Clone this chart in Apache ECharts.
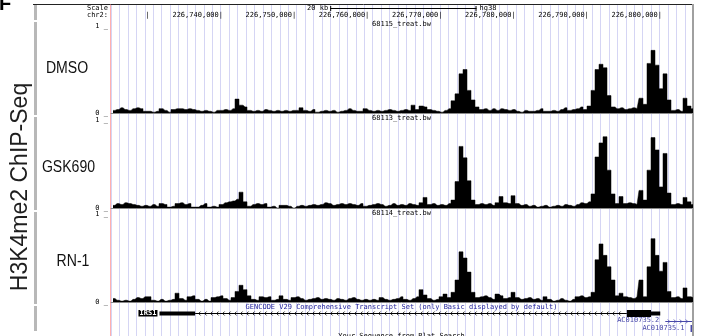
<!DOCTYPE html>
<html><head><meta charset="utf-8">
<script src="https://cdn.jsdelivr.net/npm/echarts@6/dist/echarts.min.js"></script>
<style>html,body{margin:0;padding:0;background:#fff}#c{width:704px;height:336px}</style>
</head><body><div id="c"></div>
<script>
// ---- data ----
const viewStart = 226724693;
const viewEnd = 226804100;
const binSize = 546.7;          // bp per signal bin
const axisStart = 226720000;    // first tick reference (multiple of 10 kb)
const tickStep = 10000;
const scaleBar = [226754650, 226774650]; // 20 kb
const trackNames = ['DMSO', 'GSK690', 'RN-1'];
const fileNames = ['68115_treat.bw', '68113_treat.bw', '68114_treat.bw'];

const dmso = [
0.03,0.04,0.06,0.04,0.03,0.05,0.06,0.05,0.02,0.02,
0.01,0.02,0.05,0.03,0.01,0.04,0.05,0.05,0.04,0.05,
0.04,0.03,0.02,0.03,0.02,0.01,0.03,0.03,0.04,0.03,
0.05,0.16,0.09,0.07,0.03,0.02,0.03,0.02,0.04,0.03,
0.02,0.03,0.02,0.03,0.02,0.03,0.03,0.06,0.03,0.02,
0.04,0.01,0.02,0.03,0.02,0.03,0.01,0.02,0.03,0.05,
0.03,0.02,0.02,0.05,0.03,0.02,0.03,0.02,0.03,0.04,
0.03,0.02,0.03,0.04,0.03,0.09,0.04,0.08,0.07,0.04,
0.03,0.02,0.01,0.03,0.05,0.14,0.22,0.45,0.50,0.26,
0.15,0.07,0.04,0.05,0.03,0.05,0.03,0.05,0.04,0.03,
0.04,0.02,0.01,0.03,0.02,0.02,0.03,0.05,0.02,0.02,
0.03,0.02,0.04,0.06,0.03,0.04,0.05,0.07,0.04,0.08,
0.26,0.50,0.56,0.52,0.20,0.07,0.05,0.06,0.04,0.05,
0.06,0.05,0.17,0.10,0.57,0.72,0.55,0.28,0.45,0.15,
0.03,0.04,0.02,0.17,0.08,0.05];

const gsk690 = [
0.03,0.05,0.04,0.06,0.05,0.04,0.03,0.02,0.03,0.02,
0.04,0.02,0.05,0.04,0.01,0.02,0.05,0.06,0.04,0.05,
0.01,0.01,0.03,0.05,0.01,0.02,0.01,0.04,0.06,0.07,
0.08,0.10,0.18,0.07,0.02,0.04,0.05,0.04,0.05,0.01,
0.02,0.00,0.03,0.03,0.02,0.00,0.02,0.03,0.02,0.03,
0.04,0.03,0.04,0.06,0.05,0.03,0.04,0.05,0.04,0.05,
0.04,0.03,0.05,0.02,0.03,0.04,0.05,0.04,0.02,0.03,
0.05,0.03,0.04,0.03,0.05,0.04,0.03,0.06,0.12,0.04,
0.05,0.03,0.04,0.03,0.05,0.09,0.30,0.70,0.57,0.31,
0.09,0.04,0.05,0.04,0.05,0.03,0.06,0.13,0.06,0.05,
0.14,0.05,0.03,0.04,0.02,0.03,0.01,0.02,0.03,0.01,
0.02,0.03,0.02,0.04,0.03,0.02,0.04,0.06,0.05,0.07,
0.16,0.58,0.74,0.81,0.43,0.16,0.05,0.13,0.05,0.06,
0.05,0.04,0.20,0.09,0.43,0.80,0.66,0.24,0.62,0.17,
0.04,0.05,0.04,0.12,0.07,0.04];

const rn1 = [
0.04,0.02,0.01,0.02,0.01,0.03,0.05,0.04,0.06,0.06,
0.02,0.01,0.03,0.01,0.02,0.03,0.10,0.04,0.02,0.06,
0.07,0.03,0.01,0.03,0.01,0.05,0.06,0.07,0.04,0.02,
0.05,0.12,0.19,0.14,0.07,0.03,0.02,0.06,0.05,0.06,
0.02,0.03,0.07,0.03,0.02,0.05,0.06,0.04,0.02,0.03,
0.04,0.05,0.03,0.04,0.03,0.02,0.04,0.03,0.02,0.04,
0.05,0.03,0.02,0.03,0.02,0.03,0.02,0.05,0.03,0.02,
0.03,0.04,0.06,0.03,0.02,0.04,0.06,0.14,0.08,0.04,
0.02,0.03,0.06,0.09,0.05,0.11,0.25,0.57,0.50,0.34,
0.11,0.05,0.06,0.07,0.05,0.03,0.09,0.07,0.04,0.05,
0.11,0.05,0.03,0.04,0.05,0.03,0.04,0.02,0.06,0.03,
0.01,0.02,0.04,0.02,0.01,0.03,0.06,0.07,0.05,0.06,
0.11,0.48,0.66,0.53,0.40,0.25,0.07,0.10,0.06,0.05,
0.04,0.06,0.25,0.06,0.40,0.72,0.53,0.35,0.45,0.12,
0.05,0.06,0.04,0.16,0.06,0.05];

// gene features: [start, end, row, kind(0 intron,1 utr,2 cds), strand, colorIdx]
const geneFeatures = [
  [226731317, 226736190, 0.5, 1, -1, 0],
  [226736190, 226795194, 0.5, 0, -1, 0],
  [226795194, 226798495, 0.5, 2, -1, 0],
  [226798495, 226799759, 0.5, 1, -1, 0],
  [226800450, 226804100, 1.5, 0, 1, 1],
  [226803900, 226804100, 2.5, 2, 1, 1]
];
// gene labels: [text, geneStart, row, boxed]
const geneLabels = [
  ['IRS1', 226731317, 0.5, true],
  ['AC010735.2', 226800450, 1.5, false],
  ['AC010735.1', 226803900, 2.5, false]
];
const geneColors = ['#000000', '#4848a8'];

// ---- chart ----
const mono = '"DejaVu Sans Mono","Liberation Mono",monospace';
const sans = '"Liberation Sans",Arial,sans-serif';
const chart = echarts.init(document.getElementById('c'));
const tracks = [dmso, gsk690, rn1];
const trackGrids = [{top:26,height:87},{top:120,height:88},{top:214,height:88}];
const L = 111, R = 12;
const pxPerBp = (704 - L - R) / (viewEnd - viewStart);
const coordLeft = L - (viewStart - axisStart) * pxPerBp;

const grids = [{left:L,right:R,top:5,bottom:0}];
trackGrids.forEach(g => grids.push({left:L,right:R,top:g.top,height:g.height}));
grids.push({left:L,right:R,top:309.25,height:22.5});
grids.push({left:coordLeft,right:R,top:26,height:1});

const hidden = {axisLine:{show:false},axisTick:{show:false},axisLabel:{show:false},splitLine:{show:false}};
const xAxis = [
  Object.assign({gridIndex:0,type:'value',min:0,max:(704-L-R)/8.44,interval:1}, hidden,
    {splitLine:{show:true,lineStyle:{color:'#d5d5f4',width:1}}})
];
const yAxis = [
  Object.assign({gridIndex:0,type:'value',min:0,max:1}, hidden,
    {axisLine:{show:true,onZero:false,lineStyle:{color:'#ffb0b0',width:1}},offset:1})
];
trackGrids.forEach((g,k) => {
  xAxis.push(Object.assign({gridIndex:k+1,type:'value',min:viewStart,max:viewEnd}, hidden,
    {axisLine:{show:true,onZero:false,lineStyle:{color:'#8a8a8a',width:1}}}));
  yAxis.push(Object.assign({gridIndex:k+1,type:'value',min:0,max:1,interval:1}, hidden,
    {axisLabel:{show:true,formatter:v=>v+' _',margin:3,fontFamily:mono,fontSize:7,color:'#000'}}));
});
xAxis.push(Object.assign({gridIndex:4,type:'value',min:viewStart,max:viewEnd}, hidden));
yAxis.push(Object.assign({gridIndex:4,type:'value',min:0,max:3,inverse:true}, hidden));
xAxis.push(Object.assign({gridIndex:5,type:'value',position:'top',min:axisStart,max:viewEnd,interval:tickStep}, hidden,
  {axisLabel:{show:true,align:'right',margin:7,fontFamily:mono,fontSize:7,color:'#000',
    formatter:v => v === axisStart ? '' : (v === axisStart + tickStep ? '|' : v.toLocaleString('en-US') + '|')}}));
yAxis.push(Object.assign({gridIndex:5,type:'value',min:0,max:1}, hidden));

const series = tracks.map((vals,k) => ({
  type:'line', xAxisIndex:k+1, yAxisIndex:k+1, silent:true, animation:false,
  step:'middle', symbol:'none', lineStyle:{width:0.5,color:'#000'}, areaStyle:{color:'#000',opacity:1},
  data: vals.map((v,i) => [viewStart + (i + 0.5) * binSize, v])
}));
series.push({
  type:'custom', xAxisIndex:4, yAxisIndex:4, silent:true, animation:false,
  encode:{x:[0,1], y:2}, data: geneFeatures,
  renderItem: function(params, api){
    const cs = params.coordSys;
    const p0 = api.coord([api.value(0), api.value(2)]);
    const p1 = api.coord([api.value(1), api.value(2)]);
    const kind = api.value(3), dir = api.value(4);
    const color = geneColors[api.value(5)];
    const x0 = Math.max(p0[0], cs.x), x1 = Math.min(p1[0], cs.x + cs.width);
    const y = Math.round(p0[1]) + 0.5;
    if (kind === 0) {
      const ch = [{type:'line',shape:{x1:x0,y1:y,x2:x1,y2:y},style:{stroke:color,lineWidth:1}}];
      for (let cx = x0 + 4; cx < x1 - 2; cx += 6) {
        ch.push({type:'polyline',shape:{points:[[cx-dir*1.5,y-2],[cx+dir*0.5,y],[cx-dir*1.5,y+2]]},
          style:{stroke:color,fill:null,lineWidth:0.8}});
      }
      return {type:'group',children:ch};
    }
    const h = kind === 2 ? 7 : 4;
    return {type:'rect',shape:{x:x0,y:y-h/2,width:x1-x0,height:h},style:{fill:color}};
  }
});

chart.setOption({animation:false, grid:grids, xAxis:xAxis, yAxis:yAxis, series:series});

// ---- decorations & labels ----
const px = v => chart.convertToPixel({xAxisIndex:1}, v);
const yRow = r => chart.convertToPixel({yAxisIndex:4}, r);
const g = [];
const txt = (text, x, y, font, fill, align, extra) => g.push(Object.assign({type:'text', x:x, y:y,
  style:{text:text, x:0, y:0, font:font, fill:fill, textAlign:align||'left', textVerticalAlign:'middle'}}, extra||{}));

txt('F', -1, 4, 'bold 20px ' + sans, '#000', 'left');
g.push({type:'line', shape:{x1:33,y1:4.5,x2:694,y2:4.5}, style:{stroke:'#222',lineWidth:1}});
g.push({type:'rect', shape:{x:692,y:4,width:2,height:332}, style:{fill:'#a0a0a0'}});
[[5,20],[22,115],[117,210],[212,304],[306,331]].forEach(s =>
  g.push({type:'rect', shape:{x:34,y:s[0],width:3,height:s[1]-s[0]}, style:{fill:'#b8b8b8'}}));

txt('Scale', 108, 8.5, '7px ' + mono, '#000', 'right');
txt('chr2:', 108, 15.5, '7px ' + mono, '#000', 'right');
const sb0 = px(scaleBar[0]), sb1 = px(scaleBar[1]);
txt('20 kb', sb0 - 2, 8.5, '7px ' + mono, '#000', 'right');
g.push({type:'line', shape:{x1:sb0,y1:8.5,x2:sb1,y2:8.5}, style:{stroke:'#000',lineWidth:1}});
g.push({type:'line', shape:{x1:sb0+0.5,y1:6,x2:sb0+0.5,y2:11}, style:{stroke:'#000',lineWidth:1}});
g.push({type:'line', shape:{x1:sb1-0.5,y1:6,x2:sb1-0.5,y2:11}, style:{stroke:'#000',lineWidth:1}});
txt('hg38', sb1 + 3, 8.5, '7px ' + mono, '#000', 'left');

const mid = (L + 704 - R) / 2;
[24.5, 118.5, 213.5].forEach((y,k) => txt(fileNames[k], mid, y, '7px ' + mono, '#000', 'center'));

txt('H3K4me2 ChIP-Seq', 21, 187, '23px ' + sans, '#1e1e1e', 'center', {rotation:Math.PI/2});
[[67,69],[68.5,167.5],[73,261.5]].forEach((p,k) =>
  txt(trackNames[k], p[0], p[1], '16px ' + sans, '#111', 'center', {scaleX:0.88}));

txt('GENCODE V29 Comprehensive Transcript Set (only Basic displayed by default)', mid, 307, '7px ' + mono, '#22229a', 'center');
txt('Your Sequence from Blat Search', mid, 336.5, '7px ' + mono, '#000', 'center');

geneLabels.forEach(l => {
  const x = px(l[1]) - (l[3] ? 3 : 6), y = yRow(l[2]);
  if (l[3]) {
    const w = l[0].length * 4.25 + 2;
    g.push({type:'rect', shape:{x:x-w+1,y:y-3,width:w,height:6.5}, style:{fill:'#000'}});
    txt(l[0], x, y + 0.5, 'bold 7px ' + mono, '#fff', 'right');
  } else {
    txt(l[0], x, y, '7px ' + mono, geneColors[1], 'right');
  }
});

chart.setOption({graphic:{elements:g}});
</script>
</body></html>
